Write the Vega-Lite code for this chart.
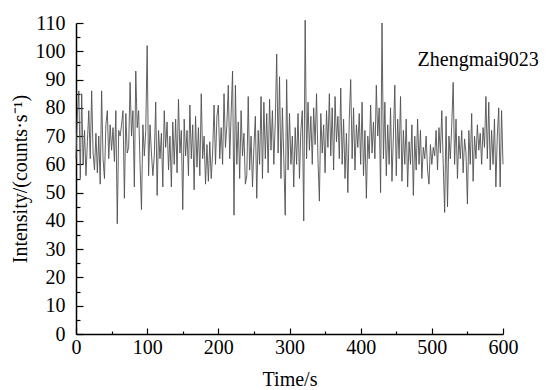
{
"$schema": "https://vega.github.io/schema/vega-lite/v6.json",
"width": 427, "height": 311,
"autosize": "none",
"padding": {"left": 76, "top": 23, "right": 51, "bottom": 56},
"background": "white",
"config": {"font": "Liberation Serif", "view": {"stroke": null}},
"datasets": {
"series": [
{"t":0,"v":62},{"t":2,"v":78},{"t":4,"v":86},{"t":6,"v":55},{"t":8,"v":85},{"t":10,"v":60},{"t":12,"v":72},{"t":14,"v":56},{"t":16,"v":68},{"t":18,"v":79},
{"t":20,"v":62},{"t":22,"v":86},{"t":24,"v":64},{"t":26,"v":58},{"t":28,"v":71},{"t":30,"v":57},{"t":32,"v":70},{"t":34,"v":53},{"t":36,"v":86},{"t":38,"v":62},
{"t":40,"v":55},{"t":42,"v":74},{"t":44,"v":79},{"t":46,"v":62},{"t":48,"v":74},{"t":50,"v":65},{"t":52,"v":73},{"t":54,"v":61},{"t":56,"v":79},{"t":58,"v":39},
{"t":60,"v":72},{"t":62,"v":70},{"t":64,"v":74},{"t":66,"v":79},{"t":68,"v":48},{"t":70,"v":78},{"t":72,"v":64},{"t":74,"v":66},{"t":76,"v":89},{"t":78,"v":70},
{"t":80,"v":79},{"t":82,"v":52},{"t":84,"v":93},{"t":86,"v":73},{"t":88,"v":79},{"t":90,"v":60},{"t":92,"v":44},{"t":94,"v":74},{"t":96,"v":63},{"t":98,"v":72},
{"t":100,"v":102},{"t":102,"v":56},{"t":104,"v":74},{"t":106,"v":64},{"t":108,"v":56},{"t":110,"v":63},{"t":112,"v":82},{"t":114,"v":49},{"t":116,"v":72},{"t":118,"v":62},
{"t":120,"v":71},{"t":122,"v":52},{"t":124,"v":79},{"t":126,"v":66},{"t":128,"v":75},{"t":130,"v":58},{"t":132,"v":70},{"t":134,"v":52},{"t":136,"v":75},{"t":138,"v":60},
{"t":140,"v":76},{"t":142,"v":57},{"t":144,"v":83},{"t":146,"v":64},{"t":148,"v":72},{"t":150,"v":44},{"t":152,"v":76},{"t":154,"v":63},{"t":156,"v":72},{"t":158,"v":56},
{"t":160,"v":81},{"t":162,"v":62},{"t":164,"v":74},{"t":166,"v":51},{"t":168,"v":77},{"t":170,"v":59},{"t":172,"v":73},{"t":174,"v":56},{"t":176,"v":85},{"t":178,"v":62},
{"t":180,"v":70},{"t":182,"v":53},{"t":184,"v":67},{"t":186,"v":54},{"t":188,"v":68},{"t":190,"v":55},{"t":192,"v":64},{"t":194,"v":81},{"t":196,"v":60},{"t":198,"v":77},
{"t":200,"v":81},{"t":202,"v":62},{"t":204,"v":73},{"t":206,"v":60},{"t":208,"v":85},{"t":210,"v":66},{"t":212,"v":74},{"t":214,"v":88},{"t":216,"v":62},{"t":218,"v":78},
{"t":220,"v":93},{"t":222,"v":42},{"t":224,"v":88},{"t":226,"v":60},{"t":228,"v":75},{"t":230,"v":55},{"t":232,"v":79},{"t":234,"v":63},{"t":236,"v":71},{"t":238,"v":53},
{"t":240,"v":56},{"t":242,"v":84},{"t":244,"v":58},{"t":246,"v":70},{"t":248,"v":52},{"t":250,"v":66},{"t":252,"v":77},{"t":254,"v":48},{"t":256,"v":72},{"t":258,"v":60},
{"t":260,"v":84},{"t":262,"v":55},{"t":264,"v":82},{"t":266,"v":62},{"t":268,"v":78},{"t":270,"v":57},{"t":272,"v":83},{"t":274,"v":65},{"t":276,"v":79},{"t":278,"v":60},
{"t":280,"v":75},{"t":282,"v":99},{"t":284,"v":64},{"t":286,"v":91},{"t":288,"v":55},{"t":290,"v":80},{"t":292,"v":62},{"t":294,"v":42},{"t":296,"v":90},{"t":298,"v":58},
{"t":300,"v":78},{"t":302,"v":60},{"t":304,"v":70},{"t":306,"v":52},{"t":308,"v":73},{"t":310,"v":60},{"t":312,"v":78},{"t":314,"v":55},{"t":316,"v":72},{"t":318,"v":79},
{"t":320,"v":40},{"t":322,"v":111},{"t":324,"v":62},{"t":326,"v":82},{"t":328,"v":65},{"t":330,"v":77},{"t":332,"v":60},{"t":334,"v":80},{"t":336,"v":67},{"t":338,"v":85},
{"t":340,"v":62},{"t":342,"v":47},{"t":344,"v":78},{"t":346,"v":64},{"t":348,"v":74},{"t":350,"v":57},{"t":352,"v":79},{"t":354,"v":66},{"t":356,"v":85},{"t":358,"v":63},
{"t":360,"v":80},{"t":362,"v":58},{"t":364,"v":84},{"t":366,"v":68},{"t":368,"v":77},{"t":370,"v":62},{"t":372,"v":87},{"t":374,"v":60},{"t":376,"v":76},{"t":378,"v":55},
{"t":380,"v":71},{"t":382,"v":50},{"t":384,"v":76},{"t":386,"v":90},{"t":388,"v":62},{"t":390,"v":80},{"t":392,"v":58},{"t":394,"v":74},{"t":396,"v":66},{"t":398,"v":78},
{"t":400,"v":60},{"t":402,"v":82},{"t":404,"v":56},{"t":406,"v":72},{"t":408,"v":48},{"t":410,"v":70},{"t":412,"v":62},{"t":414,"v":81},{"t":416,"v":64},{"t":418,"v":75},
{"t":420,"v":62},{"t":422,"v":88},{"t":424,"v":70},{"t":426,"v":80},{"t":428,"v":50},{"t":430,"v":110},{"t":432,"v":62},{"t":434,"v":82},{"t":436,"v":56},{"t":438,"v":74},
{"t":440,"v":60},{"t":442,"v":80},{"t":444,"v":54},{"t":446,"v":70},{"t":448,"v":88},{"t":450,"v":56},{"t":452,"v":76},{"t":454,"v":62},{"t":456,"v":84},{"t":458,"v":54},
{"t":460,"v":72},{"t":462,"v":60},{"t":464,"v":76},{"t":466,"v":52},{"t":468,"v":68},{"t":470,"v":60},{"t":472,"v":74},{"t":474,"v":49},{"t":476,"v":70},{"t":478,"v":58},
{"t":480,"v":76},{"t":482,"v":60},{"t":484,"v":72},{"t":486,"v":55},{"t":488,"v":66},{"t":490,"v":62},{"t":492,"v":70},{"t":494,"v":58},{"t":496,"v":53},{"t":498,"v":67},
{"t":500,"v":60},{"t":502,"v":66},{"t":504,"v":63},{"t":506,"v":72},{"t":508,"v":58},{"t":510,"v":73},{"t":512,"v":64},{"t":514,"v":79},{"t":516,"v":60},{"t":518,"v":43},
{"t":520,"v":77},{"t":522,"v":45},{"t":524,"v":70},{"t":526,"v":62},{"t":528,"v":74},{"t":530,"v":89},{"t":532,"v":60},{"t":534,"v":76},{"t":536,"v":55},{"t":538,"v":70},
{"t":540,"v":62},{"t":542,"v":72},{"t":544,"v":57},{"t":546,"v":69},{"t":548,"v":64},{"t":550,"v":46},{"t":552,"v":72},{"t":554,"v":60},{"t":556,"v":78},{"t":558,"v":54},
{"t":560,"v":70},{"t":562,"v":62},{"t":564,"v":74},{"t":566,"v":65},{"t":568,"v":71},{"t":570,"v":60},{"t":572,"v":73},{"t":574,"v":66},{"t":576,"v":84},{"t":578,"v":62},
{"t":580,"v":82},{"t":582,"v":58},{"t":584,"v":72},{"t":586,"v":60},{"t":588,"v":76},{"t":590,"v":52},{"t":592,"v":70},{"t":594,"v":80},{"t":596,"v":52},{"t":598,"v":79},
{"t":600,"v":60}
],
"label": [{"t": 480, "v": 97, "name": "Zhengmai9023"}]
},
"resolve": {"scale": {"x": "shared", "y": "shared"}, "axis": {"x": "independent", "y": "independent"}},
"layer": [
{
"data": {"name": "series"},
"mark": {"type": "line", "color": "#505050", "strokeWidth": 0.9},
"encoding": {
"x": {"field": "t", "type": "quantitative",
"scale": {"domain": [0, 600], "nice": false, "zero": false},
"axis": {
"orient": "bottom",
"title": "Time/s",
"values": [0,100,200,300,400,500,600],
"labelOverlap": false, "labelFlush": false,
"grid": false,
"domainColor": "black", "domainWidth": 1.5,
"tickColor": "black", "tickWidth": 1.2, "tickSize": -6,
"labelFontSize": 20, "labelColor": "black", "labelPadding": 9,
"labelFont": "Liberation Serif",
"titleFontSize": 20, "titleFontWeight": "normal", "titleColor": "black",
"titleFont": "Liberation Serif", "titlePadding": 12
}
},
"y": {"field": "v", "type": "quantitative",
"scale": {"domain": [0, 110], "nice": false},
"axis": {
"orient": "left",
"title": "Intensity/(counts·s⁻¹)",
"values": [0,10,20,30,40,50,60,70,80,90,100,110],
"labelOverlap": false, "labelFlush": false,
"grid": false,
"domainColor": "black", "domainWidth": 1.5,
"tickColor": "black", "tickWidth": 1.2, "tickSize": -7,
"labelFontSize": 20, "labelColor": "black", "labelPadding": 18,
"labelFont": "Liberation Serif",
"titleFontSize": 20, "titleFontWeight": "normal", "titleColor": "black",
"titleFont": "Liberation Serif", "titlePadding": 5
}
}
}
},
{
"data": {"name": "label"},
"mark": {"type": "text", "align": "left", "baseline": "middle", "fontSize": 20, "font": "Liberation Serif", "color": "black"},
"encoding": {
"x": {"field": "t", "type": "quantitative",
"axis": {"orient": "bottom", "title": null, "labels": false, "domain": false, "grid": false,
"values": [50,150,250,350,450,550], "tickColor": "black", "tickWidth": 1.2, "tickSize": -3}},
"y": {"field": "v", "type": "quantitative",
"axis": {"orient": "left", "title": null, "labels": false, "domain": false, "grid": false,
"values": [5,15,25,35,45,55,65,75,85,95,105], "tickColor": "black", "tickWidth": 1.2, "tickSize": -4}},
"text": {"field": "name"}
}
}
]
}
